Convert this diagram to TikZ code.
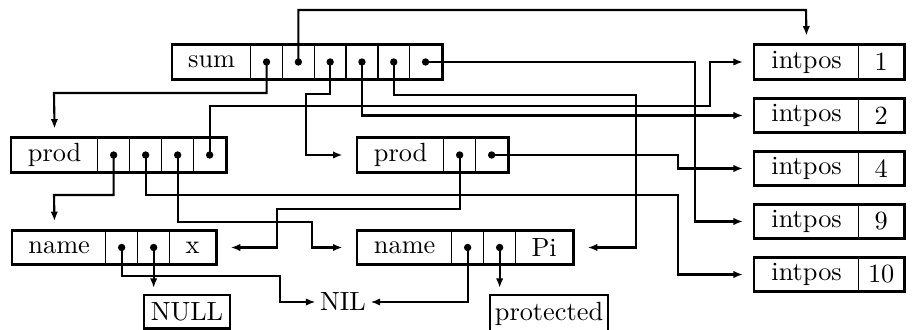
\documentclass[tikz,border=0pt]{standalone}
\usetikzlibrary{arrows.meta}
\tikzset{
  cellbox/.style={draw, line width=0.5pt, inner sep=0pt, minimum height={33*0.38pt}, anchor=west},
  rec/.style={draw, line width=1.1pt},
  conn/.style={line width=0.8pt},
  arr/.style={conn, -{Latex[length=3.6pt,width=2.8pt]}},
  gh/.style={shorten >=5.5pt},
  gi/.style={shorten >=4.2pt},
  gv/.style={shorten >=3.5pt},
  gw/.style={shorten >=2.7pt},
  ptr/.style={fill=black},
  endbox/.style={draw, line width=1pt, anchor=north, inner ysep=2.9pt, inner xsep=1.5pt, outer sep=0pt}
}
\begin{document}
\begin{tikzpicture}[x=0.38pt, y=-0.38pt]
\useasboundingbox (0,0) rectangle (912,330);
% sum record
\node[cellbox, minimum width={78*0.38pt}] (sum) at (172,62) {sum};
\node[cellbox, minimum width={31.8*0.38pt}] (s1) at (250,62) {};
\node[cellbox, minimum width={31.8*0.38pt}] (s2) at (281.8,62) {};
\node[cellbox, minimum width={31.8*0.38pt}] (s3) at (313.6,62) {};
\node[cellbox, minimum width={31.8*0.38pt}] (s4) at (345.4,62) {};
\node[cellbox, minimum width={31.8*0.38pt}] (s5) at (377.2,62) {};
\node[cellbox, minimum width={31.8*0.38pt}] (s6) at (409,62) {};
\draw[rec] (sum.north west) rectangle (s6.south east);
% prod 1
\node[cellbox, minimum width={86*0.38pt}] (p1l) at (11,155) {prod};
\node[cellbox, minimum width={32*0.38pt}] (p1a) at (97,155) {};
\node[cellbox, minimum width={32*0.38pt}] (p1b) at (129,155) {};
\node[cellbox, minimum width={32*0.38pt}] (p1c) at (161,155) {};
\node[cellbox, minimum width={32*0.38pt}] (p1d) at (193,155) {};
\draw[rec] (p1l.north west) rectangle (p1d.south east);
% prod 2
\node[cellbox, minimum width={86*0.38pt}] (p2l) at (357,155) {prod};
\node[cellbox, minimum width={32*0.38pt}] (p2a) at (443,155) {};
\node[cellbox, minimum width={32*0.38pt}] (p2b) at (475,155) {};
\draw[rec] (p2l.north west) rectangle (p2b.south east);
% name x
\node[cellbox, minimum width={93*0.38pt}] (nxl) at (12,247.5) {name};
\node[cellbox, minimum width={32*0.38pt}] (nxa) at (105,247.5) {};
\node[cellbox, minimum width={32*0.38pt}] (nxb) at (137,247.5) {};
\node[cellbox, minimum width={46*0.38pt}] (nxx) at (169,247.5) {x};
\draw[rec] (nxl.north west) rectangle (nxx.south east);
% name Pi
\node[cellbox, minimum width={94*0.38pt}] (npl) at (357,247.5) {name};
\node[cellbox, minimum width={32*0.38pt}] (npa) at (451,247.5) {};
\node[cellbox, minimum width={32*0.38pt}] (npb) at (483,247.5) {};
\node[cellbox, minimum width={57*0.38pt}] (npp) at (515,247.5) {Pi};
\draw[rec] (npl.north west) rectangle (npp.south east);
% intpos records
\node[cellbox, minimum width={104*0.38pt}] (i1l) at (754,62) {intpos};
\node[cellbox, minimum width={45*0.38pt}] (i1v) at (858,62) {1};
\draw[rec] (i1l.north west) rectangle (i1v.south east);
\node[cellbox, minimum width={104*0.38pt}] (i2l) at (754,115.5) {intpos};
\node[cellbox, minimum width={45*0.38pt}] (i2v) at (858,115.5) {2};
\draw[rec] (i2l.north west) rectangle (i2v.south east);
\node[cellbox, minimum width={104*0.38pt}] (i4l) at (754,168.5) {intpos};
\node[cellbox, minimum width={45*0.38pt}] (i4v) at (858,168.5) {4};
\draw[rec] (i4l.north west) rectangle (i4v.south east);
\node[cellbox, minimum width={104*0.38pt}] (i9l) at (754,221.5) {intpos};
\node[cellbox, minimum width={45*0.38pt}] (i9v) at (858,221.5) {9};
\draw[rec] (i9l.north west) rectangle (i9v.south east);
\node[cellbox, minimum width={104*0.38pt}] (i10l) at (754,274.5) {intpos};
\node[cellbox, minimum width={45*0.38pt}] (i10v) at (858,274.5) {10};
\draw[rec] (i10l.north west) rectangle (i10v.south east);
% end nodes
\node[endbox, minimum width={86*0.38pt}] (null) at (187,295) {NULL};
\node[endbox, minimum width={118*0.38pt}] (prot) at (549,295) {protected};
\node[inner xsep=1.6pt, inner ysep=0pt] (nil) at (343,302) {NIL};
% connectors
\draw[arr, gv] (s1.center) |- (54,93) -- (p1l.north);
\draw[arr, gv] (s2.center) |- (806,10) -- (i1l.north);
\draw[arr, gh] (s3.center) |- (306,94) |- (p2l.west);
\draw[arr, gi] (s4.center) |- (i2l.west);
\draw[arr, gh] (s5.center) |- (636,95) |- (npp.east);
\draw[arr, gi] (s6.center) -| (695,150) |- (i9l.west);
\draw[arr, gi] (p1d.center) |- (710,106) |- (i1l.west);
\draw[arr, gv] (p1a.center) |- (54,195) -- (nxl.north -| p1l.center);
\draw[arr, gi] (p1b.center) |- (678,195) |- (i10l.west);
\draw[arr, gh] (p1c.center) |- (312,222) |- (npl.west);
\draw[arr, gh] (p2a.center) |- (277,209) |- (nxx.east);
\draw[arr, gi] (p2b.center) -| (678,162) |- (i4l.west);
\draw[arr] (nxa.center) |- (280,276) |- (nil.west);
\draw[arr, gw] (nxb.center) -- (nxb.center |- null.north);
\draw[arr] (npa.center) |- (nil.east);
\draw[arr, gw] (npb.center) -- (npb.center |- prot.north);
% pointer dots
\foreach \c in {s1,s2,s3,s4,s5,s6,p1a,p1b,p1c,p1d,p2a,p2b,nxa,nxb,npa,npb}
  \fill[ptr] (\c.center) circle (1.4pt);
\end{tikzpicture}
\end{document}
